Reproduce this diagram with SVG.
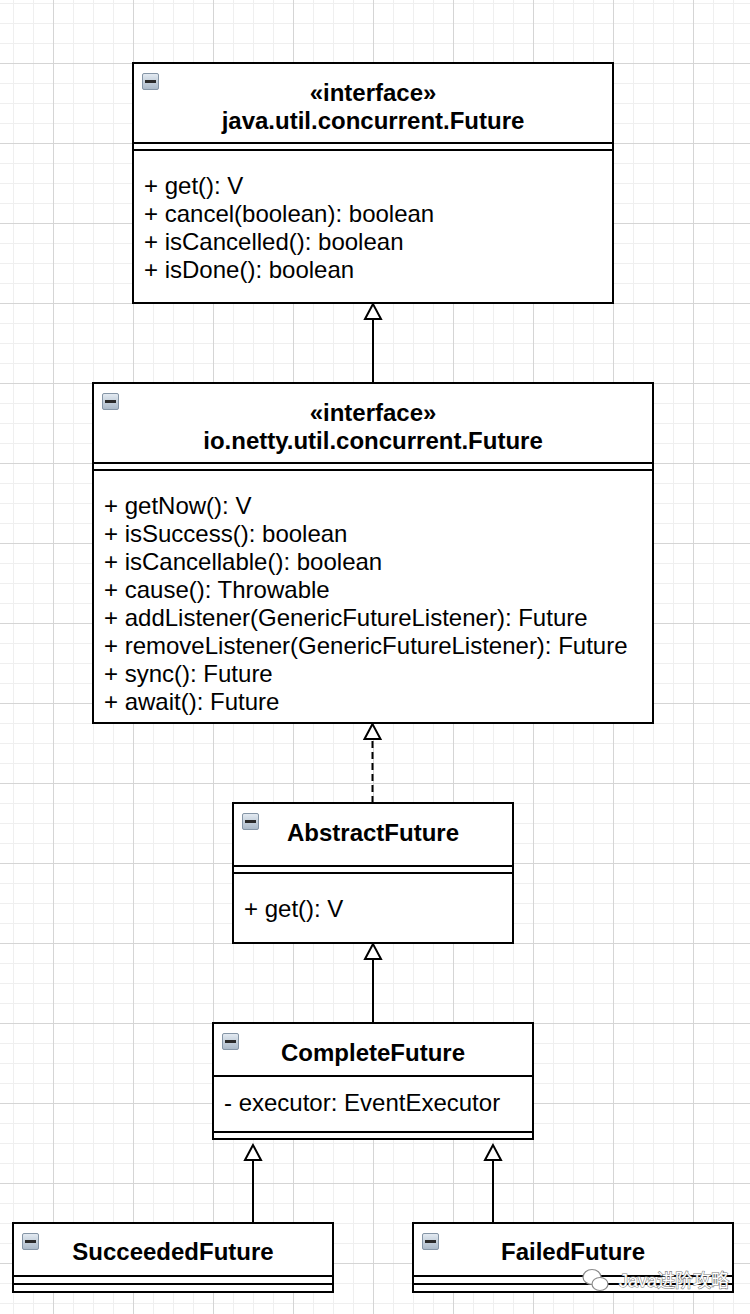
<svg xmlns="http://www.w3.org/2000/svg" width="750" height="1314" viewBox="0 0 750 1314">
<defs>
<pattern id="grid" x="53" y="63" width="80" height="80" patternUnits="userSpaceOnUse">
<rect width="80" height="80" fill="#ffffff"/>
<rect x="20" y="0" width="1" height="80" fill="#efefef"/>
<rect x="40" y="0" width="1" height="80" fill="#efefef"/>
<rect x="60" y="0" width="1" height="80" fill="#efefef"/>
<rect x="0" y="20" width="80" height="1" fill="#efefef"/>
<rect x="0" y="40" width="80" height="1" fill="#efefef"/>
<rect x="0" y="60" width="80" height="1" fill="#efefef"/>
<rect x="0" y="0" width="1" height="80" fill="#d5d5d5"/>
<rect x="0" y="0" width="80" height="1" fill="#d5d5d5"/>
</pattern>
<linearGradient id="iconGrad" x1="0" y1="0" x2="0" y2="1">
<stop offset="0" stop-color="#e4ebf2"/>
<stop offset="1" stop-color="#a9b8c8"/>
</linearGradient>
<g id="icon">
<rect x="0.5" y="0.5" width="16" height="16" rx="1.5" fill="url(#iconGrad)" stroke="#8595a6" stroke-width="1"/>
<rect x="3" y="7" width="11" height="3" fill="#2a2a2a"/>
</g>
</defs>
<style>
.box{fill:#ffffff;stroke:#000000;stroke-width:2}
.sep{stroke:#000000;stroke-width:2;fill:none}
.title{font-family:"Liberation Sans",Arial,Helvetica,sans-serif;font-size:24px;font-weight:bold;fill:#000000;text-anchor:middle}
.member{font-family:"Liberation Sans",Arial,Helvetica,sans-serif;font-size:24px;fill:#000000}
.edge{stroke:#000000;stroke-width:2;fill:none}
.dashed{stroke-dasharray:7 4}
.head{fill:#ffffff;stroke:#000000;stroke-width:2}
</style>
<rect x="0" y="0" width="750" height="1314" fill="url(#grid)"/>

<g id="connectors">
<line class="edge" x1="373" y1="383" x2="373" y2="319"/>
<polygon class="head" points="373,304 365,319 381,319"/>
<line class="edge dashed" x1="372.5" y1="803" x2="372.5" y2="739"/>
<polygon class="head" points="372.5,724 364.5,739 380.5,739"/>
<line class="edge" x1="373" y1="1023" x2="373" y2="959"/>
<polygon class="head" points="373,944 365,959 381,959"/>
<line class="edge" x1="253" y1="1223" x2="253" y2="1160"/>
<polygon class="head" points="253,1145 245,1160 261,1160"/>
<line class="edge" x1="493" y1="1223" x2="493" y2="1160"/>
<polygon class="head" points="493,1145 485,1160 501,1160"/>
</g>

<g id="java-future">
<rect class="box" x="133" y="63" width="480" height="240"/>
<line class="sep" x1="133" y1="143" x2="613" y2="143"/>
<line class="sep" x1="133" y1="150" x2="613" y2="150"/>
<use href="#icon" x="142" y="73"/>
<text class="title" x="373" y="101">«interface»</text>
<text class="title" x="373" y="129">java.util.concurrent.Future</text>
<text class="member" x="144" y="194">+ get(): V</text>
<text class="member" x="144" y="222">+ cancel(boolean): boolean</text>
<text class="member" x="144" y="250">+ isCancelled(): boolean</text>
<text class="member" x="144" y="278">+ isDone(): boolean</text>
</g>

<g id="netty-future">
<rect class="box" x="93" y="383" width="560" height="340"/>
<line class="sep" x1="93" y1="463" x2="653" y2="463"/>
<line class="sep" x1="93" y1="470" x2="653" y2="470"/>
<use href="#icon" x="102" y="393"/>
<text class="title" x="373" y="421">«interface»</text>
<text class="title" x="373" y="449">io.netty.util.concurrent.Future</text>
<text class="member" x="104" y="514">+ getNow(): V</text>
<text class="member" x="104" y="542">+ isSuccess(): boolean</text>
<text class="member" x="104" y="570">+ isCancellable(): boolean</text>
<text class="member" x="104" y="598">+ cause(): Throwable</text>
<text class="member" x="104" y="626">+ addListener(GenericFutureListener): Future</text>
<text class="member" x="104" y="654">+ removeListener(GenericFutureListener): Future</text>
<text class="member" x="104" y="682">+ sync(): Future</text>
<text class="member" x="104" y="710">+ await(): Future</text>
</g>

<g id="abstract-future">
<rect class="box" x="233" y="803" width="280" height="140"/>
<line class="sep" x1="233" y1="866" x2="513" y2="866"/>
<line class="sep" x1="233" y1="873" x2="513" y2="873"/>
<use href="#icon" x="242" y="813"/>
<text class="title" x="373" y="841">AbstractFuture</text>
<text class="member" x="244" y="917">+ get(): V</text>
</g>

<g id="complete-future">
<rect class="box" x="213" y="1023" width="320" height="116"/>
<line class="sep" x1="213" y1="1076" x2="533" y2="1076"/>
<line class="sep" x1="213" y1="1132" x2="533" y2="1132"/>
<use href="#icon" x="222" y="1033"/>
<text class="title" x="373" y="1061">CompleteFuture</text>
<text class="member" x="224" y="1111">- executor: EventExecutor</text>
</g>

<g id="succeeded-future">
<rect class="box" x="13" y="1223" width="320" height="69"/>
<line class="sep" x1="13" y1="1276" x2="333" y2="1276"/>
<line class="sep" x1="13" y1="1284" x2="333" y2="1284"/>
<use href="#icon" x="22" y="1233"/>
<text class="title" x="173" y="1260">SucceededFuture</text>
</g>

<g id="failed-future">
<rect class="box" x="413" y="1223" width="320" height="69"/>
<line class="sep" x1="413" y1="1276" x2="733" y2="1276"/>
<line class="sep" x1="413" y1="1284" x2="733" y2="1284"/>
<use href="#icon" x="422" y="1233"/>
<text class="title" x="573" y="1260">FailedFuture</text>
</g>

<g id="watermark">
<ellipse cx="592" cy="1277" rx="9" ry="7.5" fill="#ffffff" stroke="#8a8a8a" stroke-width="1.2"/>
<ellipse cx="600" cy="1284" rx="8" ry="6.5" fill="#ffffff" stroke="#8a8a8a" stroke-width="1.2"/>
<text x="619" y="1287" font-family="'Liberation Sans','Noto Sans CJK SC',sans-serif" font-size="18" fill="#ffffff" stroke="#7a7a7a" stroke-width="1.1" paint-order="stroke">Java进阶攻略</text>
</g>
</svg>
